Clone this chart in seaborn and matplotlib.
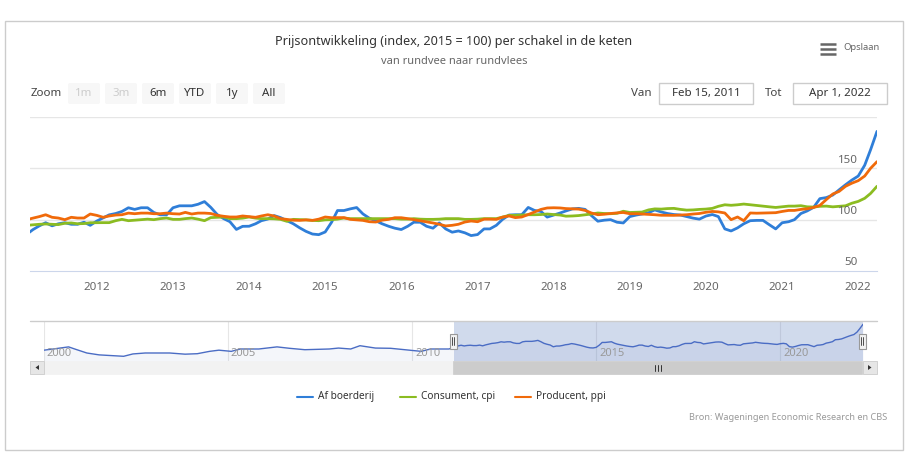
import pandas as pd
import seaborn as sns
import matplotlib.pyplot as plt
from matplotlib.patches import Rectangle, FancyBboxPatch, Polygon
from matplotlib.transforms import blended_transform_factory, offset_copy
from datetime import datetime

# Monthly index values (2015 = 100), Feb 2011 .. Apr 2022
af_boerderij = [
    86, 90.3, 94, 97, 94, 96, 97, 95.5, 95.5, 97.5, 94.5,
    98.6, 101.8, 104.7, 106, 108, 111.6, 110, 111.6, 111.6, 107, 104.7, 104.7,
    111.6, 113.5, 113.5, 113.5, 115, 117.6, 112, 105, 101, 98, 90.5, 93.5,
    93.6, 96, 99, 100.6, 104, 102, 99, 96, 92, 88.6, 86, 85.4,
    88, 97.6, 108.9, 108.9, 110.5, 111.8, 105.6, 101.4, 98.8, 96, 93.6, 91.7,
    90.4, 93.6, 97.5, 97.5, 93.6, 91.7, 96.8, 91, 87.8, 89, 87.2, 84.5,
    85.5, 91, 91, 94.5, 100.3, 104.5, 104.8, 104.8, 111.9, 109, 108, 102.5,
    104.5, 106.5, 108.5, 110.5, 111, 110, 104, 98.5, 99.5, 100, 97.5, 96.8,
    103, 104.5, 105.5, 106.8, 109.5, 107.5, 106, 105, 104.5, 103, 101.5, 100.5,
    103.5, 105, 103, 91, 89, 92, 96, 99, 99.3, 99.3, 95, 91,
    97, 98, 100, 106, 108.5, 112, 120.5, 121.5, 124, 129, 134, 138.5,
    142.5, 153, 168, 186,
]
consument_cpi = [
    94.5, 95, 95.5, 95.8, 95.5, 95.2, 96.5, 96.8, 96, 96.2, 97,
    97.1, 97.1, 97.1, 99, 100.3, 99, 99.5, 100, 100.5, 100, 101, 101.6,
    100.3, 100.3, 101, 101.6, 100.5, 99, 102, 102.3, 102.6, 101, 101, 101.5,
    102.6, 101.5, 101, 101, 100.8, 100.3, 98.4, 100.3, 100, 99.8, 99.3, 99,
    99.8, 100, 100.5, 101.6, 101, 101, 101, 101, 101, 101, 101, 101,
    100.5, 100.5, 101, 100.5, 100.3, 100.3, 100.5, 101, 101, 101, 100.3, 100.3,
    100.5, 101, 101, 101, 102.5, 104.2, 104.2, 104.5, 104.8, 104.8, 105, 105.5,
    105, 104.5, 103.4, 103.6, 104, 104.8, 105.5, 106.5, 106, 105.8, 106.2, 108.2,
    107, 107.2, 107.4, 109.5, 110.5, 110.3, 110.8, 111, 110, 109.3, 109.5, 110,
    110.3, 111, 113, 114.5, 114, 114.5, 115.2, 114.5, 113.9, 113.2, 112.5, 111.9,
    112.5, 113.2, 113.2, 113.6, 112.5, 112.3, 113, 113.2, 112.5, 113, 113.5, 116,
    117.8, 120.8, 125.5, 132.5,
]
producent_ppi = [
    100, 101.5, 103, 104.8, 102.3, 101.6, 100, 102.3, 101.6, 101.6, 105.5,
    104.2, 102.3, 103.6, 104.5, 104.8, 106.4, 105.8, 106.4, 106.4, 105.8, 105.8, 106.4,
    105.8, 105.5, 107.1, 105.5, 106.4, 106.4, 106, 104.2, 103.3, 102.6, 102.6, 103.6,
    103, 102.3, 103.6, 104.8, 103.6, 101, 100.3, 99.5, 99.3, 99.8, 99.3, 100.5,
    102.6, 101.9, 102, 102, 100.3, 99.8, 99.3, 98, 97.7, 99.5, 100.3, 101.9,
    101.9, 101, 100, 99, 98, 96.8, 95.5, 93.9, 94.5, 95.5, 97.7, 98.7,
    98, 100.5, 100.5, 100.3, 102.5, 103.6, 102, 102.6, 105, 107.5, 110, 111.4,
    111.6, 111.4, 110.8, 110.6, 110.3, 109, 106.5, 104.8, 105.3, 106, 106.6, 107,
    105.8, 105.8, 105.5, 105.2, 104.8, 104.3, 104.2, 104.2, 104.5, 104.8, 105.5, 106,
    107.2, 108, 107.6, 106.5, 100, 102.6, 99, 106.5, 106.3, 106.5, 106.6, 106.8,
    108, 109, 109, 110, 110.6, 111.9, 113.9, 119.6, 125, 127.5, 132.5, 135.5,
    138, 142.5, 150, 156.5,
]
months = pd.date_range('2011-02-01', periods=len(af_boerderij), freq='MS')

# older part of "Af boerderij", only visible in the navigator
early_months = ['2000-01', '2000-04', '2000-09', '2000-11', '2001-03', '2001-07',
                '2001-11', '2002-03', '2002-06', '2002-10', '2003-06', '2003-11',
                '2004-03', '2004-07', '2004-10', '2005-02', '2005-05', '2005-11',
                '2006-05', '2006-09', '2007-02', '2007-10', '2008-01', '2008-05',
                '2008-08', '2009-01', '2009-06', '2009-12', '2010-04', '2010-07',
                '2011-01']
early_values = [76, 81, 90, 81, 64, 56, 53, 50, 60, 64, 64, 59, 61, 71, 76, 71,
                81, 81, 90, 84, 78, 81, 85, 81, 95, 85, 84, 76, 71, 81, 81]

series_names = ['Af boerderij', 'Consument, cpi', 'Producent, ppi']
colors = ['#2f7ed8', '#8bbc21', '#f06a0a']
year_ticks = list(range(2012, 2023))
nav_years = [2000, 2005, 2010, 2015, 2020]
range_buttons = ['1m', '3m', '6m', 'YTD', '1y', 'All']
start, end = datetime(2011, 2, 15), datetime(2022, 4, 1)

df = pd.DataFrame({
    'date': list(months) * 3,
    'value': af_boerderij + consument_cpi + producent_ppi,
    'serie': [n for n in series_names for _ in months],
})
nav = pd.DataFrame({
    'date': list(pd.to_datetime(early_months)) + list(months),
    'value': early_values + af_boerderij,
})

sns.set_style('white')
plt.rcParams['font.family'] = ['Noto Sans', 'DejaVu Sans']

W, H = 921, 475
fig = plt.figure(figsize=(W / 100, H / 100), dpi=100)


def box(x0, y0, x1, y1):
    return [x0 / W, 1 - y1 / H, (x1 - x0) / W, (y1 - y0) / H]


# main chart
ax = fig.add_axes(box(30, 117, 877, 271))
sns.lineplot(data=df, x='date', y='value', hue='serie', hue_order=series_names,
             palette=colors, linewidth=2, legend=False, ax=ax, zorder=3)
ax.set_xlim(start, end)
ax.set_ylim(50, 200)
for s in ['top', 'left', 'right']:
    ax.spines[s].set_visible(False)
ax.spines['bottom'].set_color('#ccd6eb')
for v in [100, 150, 200]:
    ax.axhline(v, color='#e6e6e6', lw=1, zorder=1)
ax.set_yticks([])
ax.set_xticks([datetime(y, 1, 1) for y in year_ticks])
ax.set_xticklabels([str(y) for y in year_ticks])
ax.tick_params(axis='x', direction='out', length=5, width=0.8, color='#ccd6eb',
               labelcolor='#666666', labelsize=8.3, pad=3)
ax.set_xlabel('')
ax.set_ylabel('')
lab_tr = offset_copy(blended_transform_factory(ax.transAxes, ax.transData),
                     fig=fig, y=2, units='points')
for v in [50, 100, 150]:
    ax.text((858 - 30) / 847, v, str(v), transform=lab_tr, ha='right', va='bottom',
            color='#666666', fontsize=8.3)

# navigator
nax = fig.add_axes(box(44, 321, 863, 361))
nax.fill_between(nav['date'], nav['value'], 30, color='#335cad', alpha=0.05, lw=0)
sns.lineplot(data=nav, x='date', y='value', color='#4a6cc4', linewidth=1, ax=nax)
nax.set_xlim(datetime(2000, 1, 1), end)
nax.set_ylim(30, 200)
nax.axis('off')
nax.axvspan(start, end, color=(102 / 255, 133 / 255, 194 / 255, 0.3), lw=0)
ntr = offset_copy(blended_transform_factory(nax.transData, nax.transAxes),
                  fig=fig, x=2, units='points')
for y in nav_years:
    nax.axvline(datetime(y, 1, 1), color='#e6e6e6', lw=0.8, zorder=0)
    nax.text(datetime(y, 1, 1), 0.2, str(y), transform=ntr, ha='left', va='center',
             color='#999999', fontsize=8)

# overlay in pixel coordinates for the chrome
ov = fig.add_axes([0, 0, 1, 1], zorder=5)
ov.set_xlim(0, W)
ov.set_ylim(H, 0)
ov.axis('off')
ov.patch.set_alpha(0)

ov.add_patch(Rectangle((4.5, 20.5), 898.5, 429.5, fill=False, ec='#cccccc', lw=1))
ov.text(454, 41, 'Prijsontwikkeling (index, 2015 = 100) per schakel in de keten',
        ha='center', va='center', fontsize=9.1, fontweight='bold', color='#333333')
ov.text(454, 62, 'van rundvee naar rundvlees', ha='center', va='center',
        fontsize=8.0, color='#666666')

for yy in [43.5, 48.5, 53.5]:
    ov.plot([820, 836], [yy, yy], color='#666666', lw=1.8, solid_capstyle='butt')
ov.text(843, 47, 'Opslaan', ha='left', va='center', fontsize=6.8, color='#666666')

ov.text(31, 93.5, 'Zoom', ha='left', va='center', fontsize=8.3, color='#444444')
for i, lab in enumerate(range_buttons):
    x0 = 68 + i * 37
    ov.add_patch(FancyBboxPatch((x0, 83), 32, 21, boxstyle='round,pad=0,rounding_size=2',
                                fc='#f7f7f7', ec='none'))
    ov.text(x0 + 16, 93.5, lab, ha='center', va='center', fontsize=8.3,
            color='#cccccc' if i < 2 else '#333333')

ov.text(651, 93.5, 'Van', ha='right', va='center', fontsize=8.3, color='#444444')
ov.text(765, 93.5, 'Tot', ha='left', va='center', fontsize=8.3, color='#444444')
for x0, lab in [(659, 'Feb 15, 2011'), (793, 'Apr 1, 2022')]:
    ov.add_patch(Rectangle((x0, 83), 94, 21, fc='white', ec='#cccccc', lw=1))
    ov.text(x0 + 47, 93.5, lab, ha='center', va='center', fontsize=8.3, color='#333333')

# navigator outline, handles and scrollbar
ov.plot([30, 877], [321, 321], color='#cccccc', lw=1)
ov.add_patch(Rectangle((30, 361), 847, 13, fc='#f2f2f2', ec='#f2f2f2', lw=0.5))
ov.add_patch(Rectangle((453, 361), 409, 13, fc='#cccccc', ec='#cccccc', lw=0.5))
for xb in [30, 863]:
    ov.add_patch(Rectangle((xb, 361), 14, 13, fc='#e6e6e6', ec='#cccccc', lw=0.6))
ov.add_patch(Polygon([[39, 365], [39, 370], [35.5, 367.5]], fc='#333333', ec='none'))
ov.add_patch(Polygon([[868, 365], [868, 370], [871.5, 367.5]], fc='#333333', ec='none'))
for dx in [-3, 0, 3]:
    ov.plot([657.5 + dx, 657.5 + dx], [364.5, 370.5], color='#333333', lw=0.7)
for xh in [453, 862]:
    ov.add_patch(Rectangle((xh - 3.5, 333.5), 7, 15, fc='#f2f2f2', ec='#999999', lw=0.8))
    for dx in [-1.2, 1.2]:
        ov.plot([xh + dx, xh + dx], [337, 345], color='#333333', lw=0.6)

# legend
legend_items = [(297, series_names[0]), (400, series_names[1]), (515, series_names[2])]
for (x0, name), c in zip(legend_items, colors):
    ov.plot([x0, x0 + 16], [397, 397], color=c, lw=1.5)
    ov.text(x0 + 21, 397, name, ha='left', va='center', fontsize=7.3,
            fontweight='bold', color='#333333')

ov.text(887, 418, 'Bron: Wageningen Economic Research en CBS', ha='right', va='center',
        fontsize=6.6, color='#999999')

fig.savefig('out.png', dpi=100)
